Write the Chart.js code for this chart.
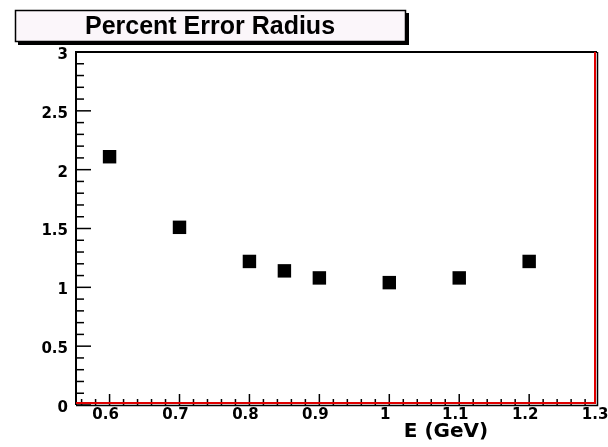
<!DOCTYPE html>
<html><head><meta charset="utf-8">
<script src="https://cdn.jsdelivr.net/npm/chart.js@4"></script>
<style>html,body{margin:0;padding:0;background:#fff;}canvas{display:block;}</style>
</head><body>
<canvas id="c" width="608" height="447"></canvas>
<script>
const titleText = "Percent Error Radius";
const xAxisTitle = "E (GeV)";
const energies = [0.6, 0.7, 0.8, 0.85, 0.9, 1.0, 1.1, 1.2];
const errorPercent = [2.11, 1.51, 1.22, 1.14, 1.08, 1.04, 1.08, 1.22];
const xTickValues = [0.6, 0.7, 0.8, 0.9, 1.0, 1.1, 1.2, 1.3];
const yTickValues = [0, 0.5, 1, 1.5, 2, 2.5, 3];
const xMinorStep = 0.02;
const yMinorStep = 0.1;

const tickFont = {family: "DejaVu Sans", weight: "bold", size: 15};

const rootFrame = {
  id: 'rootFrame',
  beforeDraw(chart) {
    const ctx = chart.ctx;
    ctx.save();
    ctx.fillStyle = '#fff';
    ctx.fillRect(0, 0, chart.width, chart.height);
    ctx.restore();
  },
  afterDatasetsDraw(chart) {
    const ctx = chart.ctx;
    const a = chart.chartArea;
    const xs = chart.scales.x, ys = chart.scales.y;
    ctx.save();
    ctx.strokeStyle = '#000';
    ctx.lineWidth = 1.5;
    // x ticks (inside, pointing up)
    const xStart = Math.ceil(xs.min / xMinorStep - 1e-6);
    for (let i = xStart; i * xMinorStep <= xs.max + 1e-9; i++) {
      const v = i * xMinorStep;
      const px = xs.getPixelForValue(v);
      const major = Math.abs(v * 10 - Math.round(v * 10)) < 1e-6;
      const len = major ? 11 : 6;
      ctx.beginPath();
      ctx.moveTo(px, a.bottom);
      ctx.lineTo(px, a.bottom - len);
      ctx.stroke();
    }
    // y ticks (inside, pointing right)
    for (let i = 0; i * yMinorStep <= ys.max + 1e-9; i++) {
      const v = i * yMinorStep;
      const py = ys.getPixelForValue(v);
      const major = Math.abs(v * 2 - Math.round(v * 2)) < 1e-6;
      const len = major ? 15 : 8;
      ctx.beginPath();
      ctx.moveTo(a.left, py);
      ctx.lineTo(a.left + len, py);
      ctx.stroke();
    }
    // frame
    ctx.lineWidth = 2;
    ctx.strokeStyle = '#000';
    ctx.beginPath();
    ctx.moveTo(a.left, a.bottom);
    ctx.lineTo(a.left, a.top);
    ctx.lineTo(a.right, a.top);
    ctx.stroke();
    ctx.strokeStyle = '#e00000';
    ctx.lineWidth = 2;
    ctx.beginPath();
    ctx.moveTo(a.left, a.bottom - 2);
    ctx.lineTo(a.right - 2, a.bottom - 2);
    ctx.lineTo(a.right - 2, a.top);
    ctx.stroke();
    ctx.strokeStyle = '#000';
    ctx.lineWidth = 1.5;
    ctx.beginPath();
    ctx.moveTo(a.left, a.bottom + 0.5);
    ctx.lineTo(a.right + 0.5, a.bottom + 0.5);
    ctx.lineTo(a.right + 0.5, a.top);
    ctx.stroke();
    // x axis title
    ctx.fillStyle = '#000';
    ctx.font = 'bold 20px "DejaVu Sans", sans-serif';
    ctx.textAlign = 'center';
    ctx.textBaseline = 'alphabetic';
    ctx.fillText(xAxisTitle, 446, 437);
    ctx.restore();
  },
  afterDraw(chart) {
    const ctx = chart.ctx;
    ctx.save();
    // title box with shadow
    ctx.fillStyle = '#000';
    ctx.fillRect(18, 13, 391, 32);
    ctx.fillStyle = '#fbf6fa';
    ctx.fillRect(15, 10, 391, 32);
    ctx.strokeStyle = '#000';
    ctx.lineWidth = 1.5;
    ctx.strokeRect(15.5, 10.5, 390, 31);
    ctx.fillStyle = '#000';
    ctx.font = 'bold 25px "Liberation Sans", Arial, sans-serif';
    ctx.textAlign = 'center';
    ctx.textBaseline = 'alphabetic';
    ctx.fillText(titleText, 210, 34);
    ctx.restore();
  }
};

new Chart(document.getElementById('c'), {
  type: 'scatter',
  data: {
    datasets: [{
      data: energies.map((e, i) => ({x: e, y: errorPercent[i]})),
      pointStyle: 'rect',
      pointRadius: 9.5,
      pointHoverRadius: 9.5,
      backgroundColor: '#000',
      borderColor: '#000',
      borderWidth: 0
    }]
  },
  options: {
    responsive: false,
    animation: false,
    events: [],
    layout: {padding: {left: 0, right: 11, top: 52, bottom: 0}},
    plugins: {legend: {display: false}, title: {display: false}, tooltip: {enabled: false}},
    scales: {
      x: {
        type: 'linear',
        min: 0.552,
        max: 1.297,
        border: {display: false},
        grid: {display: false, drawTicks: false},
        afterBuildTicks: s => { s.ticks = xTickValues.map(v => ({value: v})); },
        afterFit: s => { s.height = 42; s.paddingLeft = 0; s.paddingRight = 0; },
        ticks: {
          color: '#000', font: tickFont, padding: 1, labelOffset: -4, maxRotation: 0, autoSkip: false,
          callback: v => String(+Number(v).toFixed(2))
        }
      },
      y: {
        type: 'linear',
        min: 0,
        max: 3,
        border: {display: false},
        grid: {display: false, drawTicks: false},
        afterBuildTicks: s => { s.ticks = yTickValues.map(v => ({value: v})); },
        afterFit: s => { s.width = 76; s.paddingTop = 0; s.paddingBottom = 0; },
        ticks: {
          color: '#000', font: tickFont, padding: 8, labelOffset: 3, autoSkip: false,
          callback: v => String(+Number(v).toFixed(2))
        }
      }
    }
  },
  plugins: [rootFrame]
});
</script>
</body></html>
